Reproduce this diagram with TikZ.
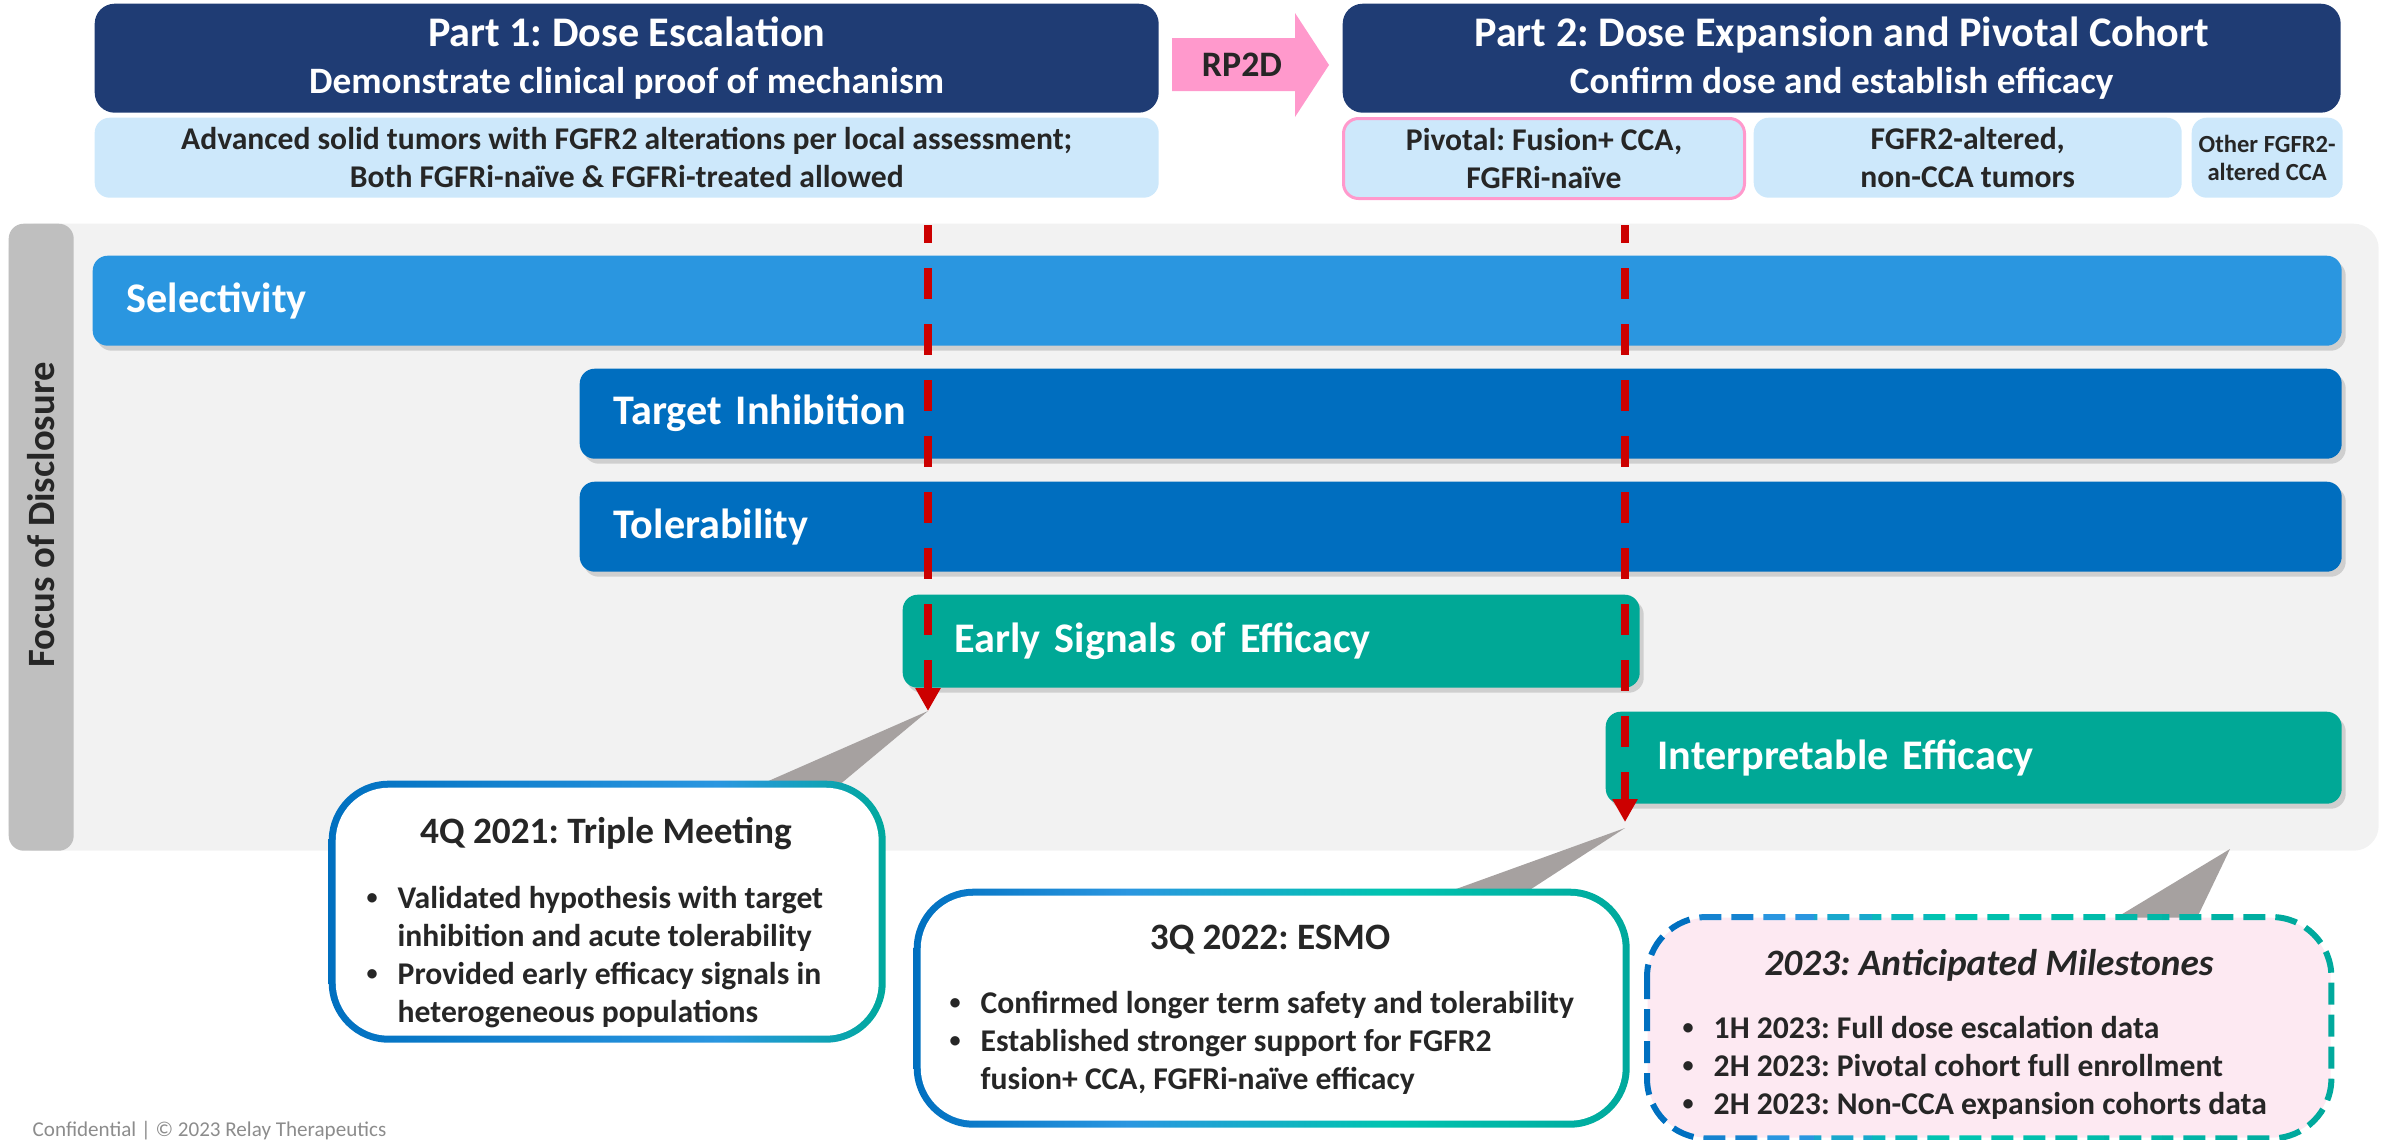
\documentclass[tikz,border=0pt]{standalone}
\usepackage{fontspec}
\usepackage{graphicx}
\setmainfont{Carlito}
\frenchspacing
\usetikzlibrary{arrows.meta,positioning,shadows}
\definecolor{hdnavy}{HTML}{1F3C74}
\definecolor{poplight}{HTML}{CDE8FB}
\definecolor{rppink}{HTML}{FF99CC}
\definecolor{panelgray}{HTML}{F2F2F2}
\definecolor{focusgray}{HTML}{BFBFBF}
\definecolor{selblue}{HTML}{2A96E0}
\definecolor{relblue}{HTML}{006EBF}
\definecolor{effteal}{HTML}{00A896}
\definecolor{markred}{HTML}{CC0000}
\definecolor{wedgegray}{HTML}{A6A1A0}
\definecolor{milepink}{HTML}{FDE9F2}
\definecolor{inkdark}{HTML}{262626}
\definecolor{footgray}{HTML}{8C8C8C}
% border gradients
\definecolor{cblue}{HTML}{0070C0}
\definecolor{cmid}{HTML}{2A96E0}
\definecolor{cbright}{HTML}{00C4B0}
\definecolor{cteal}{HTML}{00A99D}
\pgfdeclarehorizontalshading{edgeone}{100bp}{color(0bp)=(cblue); color(25bp)=(cblue);
  color(60bp)=(cmid); color(75bp)=(cteal); color(100bp)=(cteal)}
\pgfdeclarehorizontalshading{edgetwo}{100bp}{color(0bp)=(cblue); color(25bp)=(cblue);
  color(40bp)=(cmid); color(58bp)=(cbright); color(75bp)=(cteal); color(100bp)=(cteal)}
\newcommand{\blt}{\makebox[3.1mm][l]{\raisebox{0.25ex}{\scalebox{0.7}{\textbullet}}}}
\tikzset{
  >={Triangle[length=2.3mm,width=2.4mm]},
  % kopf
  hdbox/.style={anchor=north west,fill=hdnavy,rounded corners=2mm,minimum height=10.9mm,
                inner sep=0pt,text=white,align=center,font=\bfseries\fontsize{12}{13.4}\selectfont},
  popbox/.style={anchor=north west,fill=poplight,rounded corners=1.5mm,minimum height=8mm,
                 inner sep=0pt,text=inkdark,align=center,font=\bfseries\fontsize{9}{10.8}\selectfont},
  % balken
  panel/.style={anchor=north west,fill=panelgray,rounded corners=2.5mm,inner sep=0pt},
  bar/.style={anchor=north west,rounded corners=1.5mm,minimum height=9mm,inner xsep=3.4mm,
              inner ysep=0pt,align=left,text=white,font=\bfseries\fontsize{12}{14}\selectfont,
              drop shadow={shadow xshift=0.4mm,shadow yshift=-0.5mm,opacity=0.3}},
  redline/.style={->,draw=markred,line width=0.8mm,dash pattern=on 3.1mm off 2.5mm,dash phase=1.3mm},
  wedge/.style={fill=wedgegray},
  % kaesten
  callout/.style={anchor=north west,rounded corners=6mm,inner sep=0pt},
  gradedge/.style={path picture={
      \shade[shading=#1] (path picture bounding box.south west) rectangle (path picture bounding box.north east);
      \fill[white,rounded corners=5.3mm] ([shift={(0.7mm,0.7mm)}]path picture bounding box.south west)
        rectangle ([shift={(-0.7mm,-0.7mm)}]path picture bounding box.north east);}},
  milesedge/.style={line width=0.6mm,dash pattern=on 2.2mm off 1mm,rounded corners=6mm},
  ctitle/.style={text=inkdark,inner sep=0pt,font=\bfseries\fontsize{10.6}{12.6}\selectfont},
  blist/.style={anchor=north west,inner sep=0pt,text=inkdark,font=\bfseries\fontsize{9}{10.8}\selectfont},
}
\begin{document}
\begin{tikzpicture}[x=0.1mm,y=-0.1mm]
  \useasboundingbox (0,0) rectangle (2382,1139);
  % Part 1 / Part 2
  \node[hdbox,minimum width=106.4mm] (hdA) at (94,3)
    {Part 1: Dose Escalation\\{\fontsize{10.6}{13.4}\selectfont Demonstrate clinical proof of mechanism}};
  \node[hdbox,minimum width=99.8mm] (hdB) at (1342,3)
    {Part 2: Dose Expansion and Pivotal Cohort\\{\fontsize{10.6}{13.4}\selectfont Confirm dose and establish efficacy}};
  \fill[rppink] (1172,38) -- (1295,38) -- (1295,13) -- (1329,65) -- (1295,117) -- (1295,91) -- (1172,91) -- cycle;
  \node[text=inkdark,font=\bfseries\fontsize{10.2}{12}\selectfont] (rp) at (1242,65) {RP2D};
  \node[popbox,minimum width=106.4mm] (popA) at (94,117)
    {Advanced solid tumors with FGFR2 alterations per local assessment;\\Both FGFRi-na\"ive \& FGFRi-treated allowed};
  \node[popbox,minimum width=40.1mm,draw=rppink,line width=0.3mm] (piv) at (1342,117)
    {Pivotal: Fusion+ CCA,\\FGFRi-na\"ive};
  \node[popbox,minimum width=42.8mm] (nocca) at (1753,117) {FGFR2-altered,\\non-CCA tumors};
  \node[popbox,minimum width=15.1mm,font=\bfseries\fontsize{7}{8}\selectfont] (othr) at (2191,117)
    {Other FGFR2-\\altered CCA};

  % focus of disclosure
  \node[panel,minimum width=237mm,minimum height=62.7mm] (panel) at (8,223) {};
  \node[panel,fill=focusgray,rounded corners=1.5mm,minimum width=6.5mm,minimum height=62.7mm] (fbar) at (8,223) {};
  \node[rotate=90,text=inkdark,font=\bfseries\fontsize{11}{13}\selectfont] (focus) at (41,515) {Focus of Disclosure};
  \node[bar,fill=selblue,text width=218.1mm] (sel) at (92,255) {Selectivity};
  \node[bar,fill=relblue,text width=169.4mm] (tgt) at (579,368) {Target Inhibition};
  \node[bar,fill=relblue,text width=169.4mm] (tol) at (579,481) {Tolerability};
  \node[bar,fill=effteal,inner xsep=5.2mm,minimum height=9.3mm,text width=63.3mm] (early) at (902,594) {Early Signals of Efficacy};
  \node[bar,fill=effteal,inner xsep=5.2mm,minimum height=9.2mm,text width=63.2mm] (interp) at (1605,711) {Interpretable Efficacy};

  \coordinate (topA) at (928,225);
  \coordinate (tipA) at (928,711);
  \coordinate (topB) at (1625,225);
  \coordinate (tipB) at (1625,822);
  \fill[wedge] (tipA) -- (757,786) -- (838,786) -- cycle;
  \fill[wedge] ([yshift=-0.6mm]tipB) -- (1445,893) -- (1525,893) -- cycle;
  \fill[wedge] (2230,849) -- (2109,922) -- (2195,922) -- cycle;
  \draw[redline] (topA) -- (tipA);
  \draw[redline] (topB) -- (tipB);

  % 4Q 2021
  \node[callout,gradedge=edgeone,minimum width=55.7mm,minimum height=26.2mm] (trip) at (328,780) {};
  \node[ctitle] (tripT) at (606,834) {4Q 2021: Triple Meeting};
  \node[blist] (tripL) at (366,881) {\begin{tabular}{@{}l@{}l@{}}
      \blt & Validated hypothesis with target\\
           & inhibition and acute tolerability\\
      \blt & Provided early efficacy signals in\\
           & heterogeneous populations
    \end{tabular}};
  % 3Q 2022
  \node[callout,gradedge=edgetwo,minimum width=71.6mm,minimum height=23.9mm] (esmo) at (913,888) {};
  \node[ctitle] (esmoT) at (1270,940) {3Q 2022: ESMO};
  \node[blist] (esmoL) at (949,986) {\begin{tabular}{@{}l@{}l@{}}
      \blt & Confirmed longer term safety and tolerability\\
      \blt & Established stronger support for FGFR2\\
           & fusion+ CCA, FGFRi-na\"ive efficacy
    \end{tabular}};
  % 2023
  \node[callout,fill=milepink,minimum width=68.3mm,minimum height=22mm] (miles) at (1647,917) {};
  \foreach \k/\col in {0/cblue,1/cblue!50!cmid,2/cmid,3/cmid!60!cbright,4/cmid!25!cbright,5/cbright,
                       6/cbright!85!cteal,7/cbright!70!cteal,8/cbright!55!cteal,9/cbright!40!cteal,
                       10/cbright!20!cteal,11/cteal}{
    \begin{scope}
      \clip (1640+\k*58,900) rectangle ++(58,260);
      \draw[milesedge,draw=\col] (miles.north west) rectangle (miles.south east);
    \end{scope}
  }
  \node[ctitle,font=\bfseries\itshape\fontsize{10.6}{12.6}\selectfont] (milesT) at (1989,965) {2023: Anticipated Milestones};
  \node[blist] (milesL) at (1682,1011) {\begin{tabular}{@{}l@{}l@{}}
      \blt & 1H 2023: Full dose escalation data\\
      \blt & 2H 2023: Pivotal cohort full enrollment\\
      \blt & 2H 2023: Non-CCA expansion cohorts data
    \end{tabular}};

  \node[anchor=base west,inner sep=0pt,text=footgray,font=\fontsize{6}{7}\selectfont] (conf) at (32,1136)
    {Confidential | © 2023 Relay Therapeutics};
\end{tikzpicture}
\end{document}
